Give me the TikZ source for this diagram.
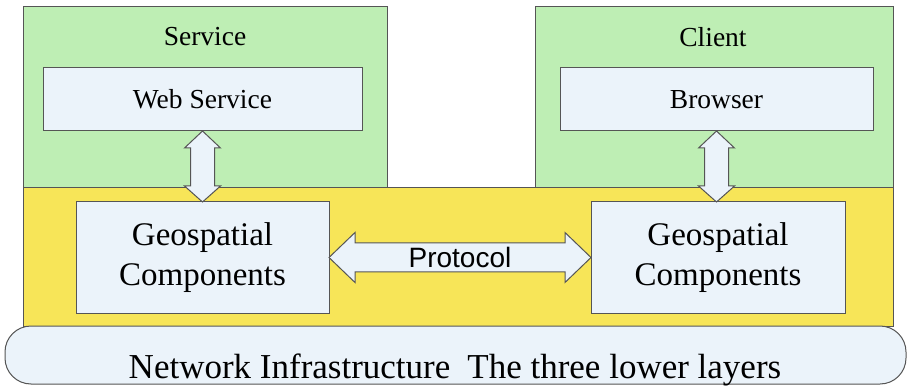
\documentclass[tikz,border=0pt]{standalone}
\usepackage{fontspec}
\setmainfont{Liberation Serif}
\setsansfont{Liberation Sans}
\usetikzlibrary{calc,positioning}
\definecolor{tiergreen}{RGB}{190,238,180}
\definecolor{tieryellow}{RGB}{247,229,88}
\definecolor{boxblue}{RGB}{235,243,250}
\definecolor{edgegray}{RGB}{85,85,85}
\tikzset{every picture/.style={line width=1pt}}
\tikzset{
  tier/.style={draw=edgegray, outer sep=0pt, inner sep=0pt, anchor=north west},
  compbox/.style={draw=edgegray, fill=boxblue, outer sep=0pt, inner sep=0pt, anchor=north west, align=center},
  fatarrow/.style={draw=edgegray, fill=boxblue, line join=miter}
}

\begin{document}
\begin{tikzpicture}[x=1pt,y=-1pt]
    \fill[white] (0,0) rectangle (907,385);

    % Ebenen
    \node[tier, fill=tiergreen, minimum width=364pt, minimum height=181pt] (service) at (23,7) {};
    \node[tier, fill=tiergreen, minimum width=358pt, minimum height=181pt] (client) at (535,7) {};
    \node[tier, fill=tieryellow, minimum width=870pt, minimum height=138pt] (middle) at (23,188) {};
    \node[tier, fill=boxblue, rounded corners=26pt, minimum width=901pt, minimum height=58pt] (network) at (5,326) {};

    % Titel
    \node[font=\fontsize{27.5}{32}\selectfont] (servicelbl) at (205,37) {Service};
    \node[font=\fontsize{27.5}{32}\selectfont] (clientlbl) at (713,37) {Client};

    % Komponenten
    \node[compbox, minimum width=319pt, minimum height=63pt, font=\fontsize{27.5}{32}\selectfont] (web) at (43,68) {Web Service};
    \node[compbox, minimum width=313pt, minimum height=63pt, font=\fontsize{27.5}{32}\selectfont] (browser) at (560,68) {Browser};
    \node[compbox, minimum width=253pt, minimum height=111pt, font=\fontsize{33}{40}\selectfont] (geoL) at (76,202) {Geospatial\\Components};
    \node[compbox, minimum width=254pt, minimum height=111pt, font=\fontsize{33}{40}\selectfont] (geoR) at (591,202) {Geospatial\\Components};

    % vertikale Doppelpfeile
    \foreach \srcnode/\dstnode in {web/geoL, browser/geoR}
        \draw[fatarrow] let \p1=(\srcnode.south), \p2=(\dstnode.north) in
            (\x1,\y1) -- (\x1+18pt,\y1-17pt) -- (\x1+12pt,\y1-17pt) -- (\x1+12pt,\y2+16pt)
            -- (\x1+18pt,\y2+16pt) -- (\x1,\y2) -- (\x1-18pt,\y2+16pt) -- (\x1-12pt,\y2+16pt)
            -- (\x1-12pt,\y1-17pt) -- (\x1-18pt,\y1-17pt) -- cycle;

    % Protokoll
    \draw[fatarrow] let \p1=(geoL.east), \p2=(geoR.west) in
        (\x1,\y1) -- (\x1+26pt,\y1+25pt) -- (\x1+26pt,\y1+14.5pt) -- (\x2-26pt,\y1+14.5pt)
        -- (\x2-26pt,\y1+25pt) -- (\x2,\y1) -- (\x2-26pt,\y1-25pt) -- (\x2-26pt,\y1-14.5pt)
        -- (\x1+26pt,\y1-14.5pt) -- (\x1+26pt,\y1-25pt) -- cycle;
    \node[font=\sffamily\fontsize{28}{33}\selectfont] (protocol) at ($(geoL.east)!0.5!(geoR.west)$) {Protocol};

    % Netz
    \node[anchor=base, font=\fontsize{35}{42}\selectfont] (netlbl) at (455,378) {Network Infrastructure\hspace{17pt}The three lower layers};
\end{tikzpicture}
\end{document}
